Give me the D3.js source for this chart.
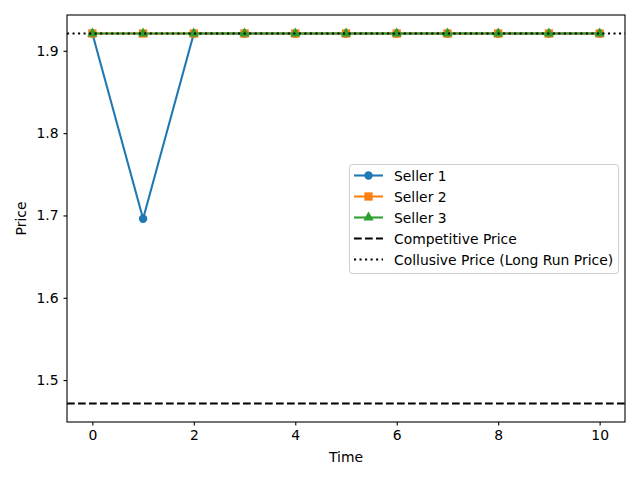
<!DOCTYPE html>
<html>
<head>
<meta charset="utf-8">
<script src="https://cdn.jsdelivr.net/npm/d3@7/dist/d3.min.js"></script>
<style>
  body { margin: 0; background: #fff; }
  svg { display: block; font-family: "DejaVu Sans", sans-serif; }
</style>
</head>
<body>
<svg id="chart" width="640" height="480"></svg>
<script>
// data
const times = [0, 1, 2, 3, 4, 5, 6, 7, 8, 9, 10];
const seller1 = [1.921, 1.696, 1.921, 1.921, 1.921, 1.921, 1.921, 1.921, 1.921, 1.921, 1.921];
const seller2 = [1.921, 1.921, 1.921, 1.921, 1.921, 1.921, 1.921, 1.921, 1.921, 1.921, 1.921];
const seller3 = [1.921, 1.921, 1.921, 1.921, 1.921, 1.921, 1.921, 1.921, 1.921, 1.921, 1.921];
const competitivePrice = 1.4716;
const collusivePrice = 1.921;
const xTicks = [0, 2, 4, 6, 8, 10];
const yTicks = [1.5, 1.6, 1.7, 1.8, 1.9];

const series = [
  { name: "Seller 1", values: seller1, color: "#1f77b4", marker: "circle" },
  { name: "Seller 2", values: seller2, color: "#ff7f0e", marker: "square" },
  { name: "Seller 3", values: seller3, color: "#2ca02c", marker: "triangle" }
];

const plotLeft = 67, plotRight = 625, plotTop = 15, plotBottom = 422;
const svg = d3.select("#chart");

const x = d3.scaleLinear().domain([-0.5, 10.5]).range([plotLeft, plotRight]);
const y = d3.scaleLinear().domain([1.4491, 1.9435]).range([plotBottom, plotTop]);

// axes
const xAxis = d3.axisBottom(x).tickValues(xTicks).tickSize(3.5).tickPadding(4.9).tickFormat(d3.format("d"));
const yAxis = d3.axisLeft(y).tickValues(yTicks).tickSize(3.5).tickPadding(4.9).tickFormat(d3.format(".1f"));

svg.append("g").attr("transform", `translate(0,${plotBottom})`).call(xAxis)
  .call(g => g.select(".domain").remove());
svg.append("g").attr("transform", `translate(${plotLeft},0)`).call(yAxis)
  .call(g => g.select(".domain").remove());
svg.selectAll(".tick text").attr("font-size", 13.9).attr("fill", "#000")
  .attr("font-family", "DejaVu Sans, sans-serif");
svg.selectAll(".tick line").attr("stroke", "#000").attr("stroke-width", 1.1);

const markerSym = {
  circle: d3.symbol().type(d3.symbolCircle).size(Math.PI * 4.2 * 4.2),
  square: d3.symbol().type(d3.symbolSquare).size(8.3 * 8.3),
  triangle: d3.symbol().type(d3.symbolTriangle).size(46)
};

const line = d3.line().x((d, i) => x(times[i])).y(d => y(d));
const plot = svg.append("g");

series.forEach(s => {
  plot.append("path").datum(s.values)
    .attr("d", line).attr("fill", "none")
    .attr("stroke", s.color).attr("stroke-width", 2.08)
    .attr("stroke-linejoin", "round");
  plot.selectAll(null).data(s.values).enter().append("path")
    .attr("d", markerSym[s.marker])
    .attr("transform", (d, i) => `translate(${x(times[i])},${y(d)})`)
    .attr("fill", s.color);
});

// horizontal reference lines
plot.append("line")
  .attr("x1", plotLeft).attr("x2", plotRight)
  .attr("y1", y(competitivePrice)).attr("y2", y(competitivePrice))
  .attr("stroke", "#000").attr("stroke-width", 2.08)
  .attr("stroke-dasharray", "7.7,3.3");
plot.append("line")
  .attr("x1", plotLeft).attr("x2", plotRight)
  .attr("y1", y(collusivePrice)).attr("y2", y(collusivePrice))
  .attr("stroke", "#000").attr("stroke-width", 2.08)
  .attr("stroke-dasharray", "2.08,3.44");

// frame
svg.append("rect")
  .attr("x", plotLeft).attr("y", plotTop)
  .attr("width", plotRight - plotLeft).attr("height", plotBottom - plotTop)
  .attr("fill", "none").attr("stroke", "#000").attr("stroke-width", 1.1);

// axis labels
svg.append("text").attr("x", (plotLeft + plotRight) / 2).attr("y", 462)
  .attr("text-anchor", "middle").attr("font-size", 13.9).text("Time");
svg.append("text")
  .attr("transform", `translate(26,${(plotTop + plotBottom) / 2}) rotate(-90)`)
  .attr("text-anchor", "middle").attr("font-size", 13.9).text("Price");

// legend
const legendItems = [
  { name: "Seller 1", color: "#1f77b4", marker: "circle", dash: null },
  { name: "Seller 2", color: "#ff7f0e", marker: "square", dash: null },
  { name: "Seller 3", color: "#2ca02c", marker: "triangle", dash: null },
  { name: "Competitive Price", color: "#000", marker: null, dash: "7.7,3.3" },
  { name: "Collusive Price (Long Run Price)", color: "#000", marker: null, dash: "2.08,3.44" }
];

const legend = svg.append("g");
legend.append("rect")
  .attr("x", 349.5).attr("y", 164.5).attr("width", 269).attr("height", 109)
  .attr("rx", 3).attr("fill", "#fff").attr("fill-opacity", 0.8)
  .attr("stroke", "#ccc").attr("stroke-width", 1);

legendItems.forEach((d, i) => {
  const ly = 175.5 + i * 21;
  legend.append("line")
    .attr("x1", 354).attr("x2", 383).attr("y1", ly).attr("y2", ly)
    .attr("stroke", d.color).attr("stroke-width", 2.08)
    .attr("stroke-dasharray", d.dash);
  if (d.marker) {
    legend.append("path").attr("d", markerSym[d.marker])
      .attr("transform", `translate(368.5,${ly})`).attr("fill", d.color);
  }
  legend.append("text").attr("x", 394).attr("y", ly + 5)
    .attr("font-size", 13.9).text(d.name);
});
</script>
</body>
</html>
